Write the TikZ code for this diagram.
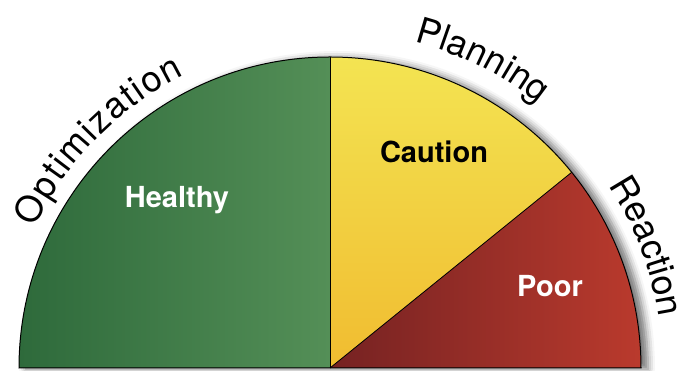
\documentclass[tikz,border=0pt]{standalone}
\usepackage{fontspec}
\setmainfont{TeX Gyre Heros}
\usetikzlibrary{decorations.text,shadows.blur}
\definecolor{gdark}{HTML}{2E6A3B}
\definecolor{glight}{HTML}{548F57}
\definecolor{ytop}{HTML}{F3E452}
\definecolor{ybot}{HTML}{F1BC30}
\definecolor{rdark}{HTML}{752222}
\definecolor{rlight}{HTML}{BA3A2D}
\newcommand\arcfont{\fontsize{36}{36}\selectfont}
\tikzset{
  sectorlabel/.style={font=\bfseries\fontsize{29}{29}\selectfont, anchor=base, inner sep=0pt},
  arclabel/.style={decorate, decoration={text along path, text align={fit to path}}},
}
\begin{document}
\begin{tikzpicture}[x=1pt,y=1pt]
\useasboundingbox (0,0) rectangle (686,371);
\coordinate (C) at (330,3);
% shadow
\fill[blur shadow={shadow xshift=7pt, shadow yshift=-1pt, shadow blur radius=7pt, shadow opacity=55}, white]
  (C) -- ++(0:311) arc[start angle=0, end angle=180, radius=311] -- cycle;
% sectors
\shade[left color=gdark, right color=glight]
  (C) -- ++(180:311) arc[start angle=180, end angle=90, radius=311] -- cycle;
\shade[top color=ytop, bottom color=ybot]
  (C) -- ++(90:311) arc[start angle=90, end angle=39, radius=311] -- cycle;
\shade[left color=rdark, right color=rlight]
  (C) -- ++(39:311) arc[start angle=39, end angle=0, radius=311] -- cycle;
% outlines
\draw[line width=1pt] (C) -- ++(0:311) arc[start angle=0, end angle=180, radius=311] -- cycle;
\draw[line width=0.8pt] (C) -- ++(90:311);
\draw[line width=0.8pt] (C) -- ++(39:311);
% sector labels
\node[sectorlabel, text=white] (healthy) at (177,163) {Healthy};
\node[sectorlabel, text=black] (caution) at (434,208) {Caution};
\node[sectorlabel, text=white] (poor) at (550,74) {Poor};
% arc labels
\path[arclabel, decoration={text={|\arcfont|Optimization}}]
  (C) ++(154.5:327) arc[start angle=154.5, end angle=116.4, radius=327];
\path[arclabel, decoration={text={|\arcfont|Planning}}]
  (C) ++(75.5:337) arc[start angle=75.5, end angle=52.5, radius=337];
\path[arclabel, decoration={text={|\arcfont|Reaction}}]
  (C) ++(33.2:333) arc[start angle=33.2, end angle=8.7, radius=333];
\end{tikzpicture}
\end{document}
